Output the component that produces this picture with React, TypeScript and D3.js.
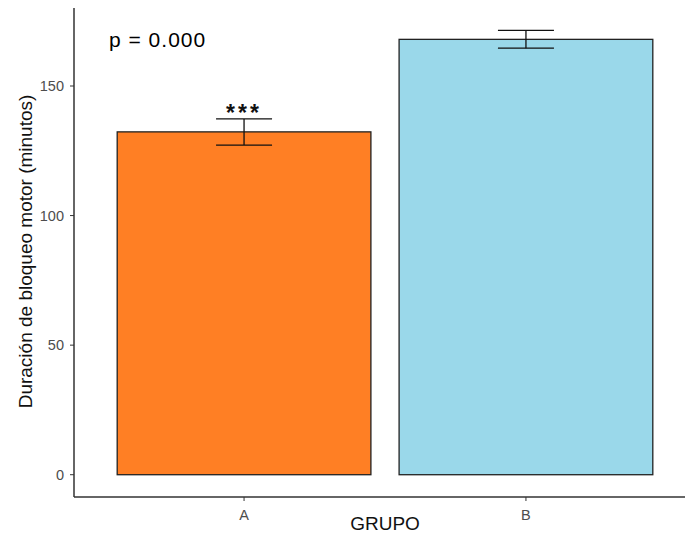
import React from 'react';
import * as d3 from 'd3';

const groups = ['A', 'B'];
const means = [132.3, 168];
const errLow = [127.2, 164.6];
const errHigh = [137.3, 171.5];
const barColors = ['#FF7F24', '#9AD8EA'];
const yTicks = [0, 50, 100, 150];
const signif = ['***', ''];

const App = () => {
  const width = 685;
  const height = 534;
  const left = 74;
  const bottom = 497;
  const top = 8;

  const y = d3.scaleLinear().domain([-8.6, 180.1]).range([bottom, top]);
  // panel runs past the right edge of the picture (cropped)
  const x = d3.scaleBand().domain(groups).range([89, 681]).paddingInner(0.1).paddingOuter(0.1);
  const cx = (g: string) => (x(g) as number) + x.bandwidth() / 2;

  const font = '"Liberation Sans", Arial, sans-serif';
  const axisCol = '#333';

  return (
    <svg width={width} height={height} style={{ position: 'absolute', left: 0, top: 0 }}>
      <rect width={width} height={height} fill="#fff" />
      {groups.map((g, i) => (
        <g key={g}>
          <rect x={x(g)} y={y(means[i])} width={x.bandwidth()} height={y(0) - y(means[i])}
            fill={barColors[i]} stroke="#222" strokeWidth={1.3} />
          <line x1={cx(g)} x2={cx(g)} y1={y(errHigh[i])} y2={y(errLow[i])} stroke="#111" strokeWidth={1.3} />
          <line x1={cx(g) - 28} x2={cx(g) + 28} y1={y(errHigh[i])} y2={y(errHigh[i])} stroke="#111" strokeWidth={1.3} />
          <line x1={cx(g) - 28} x2={cx(g) + 28} y1={y(errLow[i])} y2={y(errLow[i])} stroke="#111" strokeWidth={1.3} />
          {signif[i] && (
            <text x={cx(g)} y={y(errHigh[i]) + 2.5} textAnchor="middle" fontFamily={font} fontSize={23}
              fontWeight="bold" letterSpacing={3} fill="#111">{signif[i]}</text>
          )}
          <line x1={cx(g)} x2={cx(g)} y1={bottom} y2={bottom + 4} stroke={axisCol} />
          <text x={cx(g)} y={520} textAnchor="middle" fontFamily={font} fontSize={14.5} fill="#4D4D4D">{g}</text>
        </g>
      ))}
      <line x1={left} x2={width} y1={bottom} y2={bottom} stroke={axisCol} strokeWidth={1.5} />
      <line x1={left} x2={left} y1={top} y2={bottom} stroke={axisCol} strokeWidth={1.5} />
      {yTicks.map(t => (
        <g key={t}>
          <line x1={left - 4} x2={left} y1={y(t)} y2={y(t)} stroke={axisCol} />
          <text x={64} y={y(t)} dy="0.36em" textAnchor="end" fontFamily={font} fontSize={14.5} fill="#4D4D4D">{t}</text>
        </g>
      ))}
      <text x={109} y={47} fontFamily={font} fontSize={21} letterSpacing={1} fill="#000">p = 0.000</text>
      <text transform={`translate(32, ${(88 + 415) / 2}) rotate(-90)`} textAnchor="middle" fontFamily={font} fontSize={19} fill="#111">
        Duración de bloqueo motor (minutos)
      </text>
      <text x={385} y={530} textAnchor="middle" fontFamily={font} fontSize={19} fill="#111">GRUPO</text>
    </svg>
  );
};

export default App;
